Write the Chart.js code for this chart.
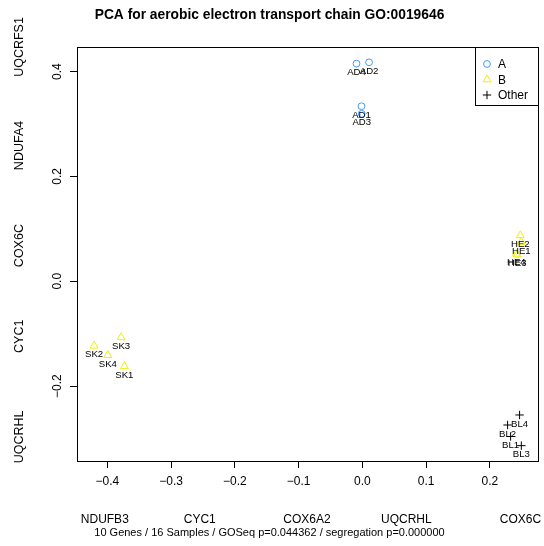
<!DOCTYPE html>
<html lang="en">
<head>
    <meta charset="UTF-8">
    <script src="https://cdn.jsdelivr.net/npm/chart.js@4/dist/chart.umd.min.js"></script>
    <title>PCA aerobic electron transport chain</title>
    <style type="text/css">
        body { margin:0; background:#fff; }
    </style>
</head>
<body>
<canvas id="pcaCanvas" width="544" height="546"></canvas>
<script>

// sample names, group and PCA coordinates
var samples = ['AD1','AD2','AD3','AD4','HE1','HE2','HE3','HE4','SK1','SK2','SK3','SK4','BL1','BL2','BL3','BL4'];
var groups  = ['A','A','A','A','B','B','B','B','B','B','B','B','Other','Other','Other','Other'];
var pc1 = [-0.0014, 0.0105, -0.0010, -0.0092, 0.2493, 0.2477, 0.2428, 0.2415, -0.3733, -0.4208, -0.3785, -0.3993, 0.2325, 0.2278, 0.2493, 0.2466];
var pc2 = [0.3339, 0.4177, 0.3194, 0.4152, 0.0749, 0.0876, 0.0504, 0.0524, -0.1625, -0.1232, -0.1072, -0.1410, -0.2962, -0.2743, -0.3137, -0.2552];

var xTicks = [-0.4, -0.3, -0.2, -0.1, 0.0, 0.1, 0.2];
var yTicks = [-0.2, 0.0, 0.2, 0.4];
var xGenes = ['NDUFB3', 'CYC1', 'COX6A2', 'UQCRHL', 'COX6C'];
var xGenePos = [-0.404, -0.255, -0.087, 0.069, 0.248];
var yGenes = ['UQCRHL', 'CYC1', 'COX6C', 'NDUFA4', 'UQCRFS1'];
var yGenePos = [-0.297, -0.105, 0.068, 0.259, 0.447];

var groupNames = ['A', 'B', 'Other'];
var xMin = -0.4476, xMax = 0.2761;
var yMin = -0.343, yMax = 0.447;

var titleText = 'PCA for aerobic electron transport chain GO:0019646';
var subText = '10 Genes / 16 Samples / GOSeq p=0.044362 / segregation p=0.000000';

var styles = {
    'A':     { pointStyle: 'circle',   radius: 3.4, color: '#3d9bff' },
    'B':     { pointStyle: 'triangle', radius: 4.6, color: '#f0f000' },
    'Other': { pointStyle: 'cross',    radius: 4.2, color: '#000000' }
};

var FONT = "'Liberation Sans', Arial, Helvetica, sans-serif";
Chart.defaults.font.family = FONT;
Chart.defaults.color = '#000';

function fmt(v) {
    return v.toFixed(1).replace('-', '\u2212');
}

var datasets = groupNames.map(function(g) {
    var pts = [];
    for (var i = 0; i < samples.length; i++) {
        if (groups[i] === g) pts.push({ x: pc1[i], y: pc2[i], name: samples[i] });
    }
    var st = styles[g];
    return {
        label: g,
        data: pts,
        pointStyle: st.pointStyle,
        pointRadius: st.radius,
        pointBorderColor: st.color,
        pointBackgroundColor: 'rgba(0,0,0,0)',
        pointBorderWidth: 1
    };
});

// sample names under each point
var labelPlugin = {
    id: 'sampleLabels',
    afterDatasetsDraw: function(chart) {
        var ctx = chart.ctx;
        ctx.save();
        ctx.font = '9.6px ' + FONT;
        ctx.fillStyle = '#000';
        ctx.textAlign = 'center';
        ctx.textBaseline = 'middle';
        chart.data.datasets.forEach(function(ds, i) {
            var meta = chart.getDatasetMeta(i);
            meta.data.forEach(function(pt, j) {
                ctx.fillText(ds.data[j].name, pt.x, pt.y + 9);
            });
        });
        ctx.restore();
    }
};

// frame around the plot + legend in the top right corner
var boxPlugin = {
    id: 'frameLegend',
    afterDraw: function(chart) {
        var ctx = chart.ctx;
        var a = chart.chartArea;
        ctx.save();
        ctx.strokeStyle = '#000';
        ctx.lineWidth = 1;
        ctx.strokeRect(Math.round(a.left) + 0.5, Math.round(a.top) + 0.5,
                       Math.round(a.right - a.left), Math.round(a.bottom - a.top));

        var w = 63, h = 58;
        var lx = Math.round(a.right) - w, ly = Math.round(a.top);
        ctx.fillStyle = '#fff';
        ctx.fillRect(lx + 0.5, ly + 0.5, w, h);
        ctx.strokeRect(lx + 0.5, ly + 0.5, w, h);

        ctx.font = '12px ' + FONT;
        ctx.textAlign = 'left';
        ctx.textBaseline = 'middle';
        chart.data.datasets.forEach(function(ds, i) {
            var y = ly + 17 + i * 15.5;
            ctx.strokeStyle = ds.pointBorderColor;
            ctx.fillStyle = 'rgba(0,0,0,0)';
            ctx.lineWidth = 1;
            Chart.helpers.drawPoint(ctx, {
                pointStyle: ds.pointStyle, radius: ds.pointRadius, rotation: 0, borderWidth: 1
            }, lx + 12, y);
            ctx.fillStyle = '#000';
            ctx.fillText(ds.label, lx + 23, y + 1);
        });
        ctx.restore();
    }
};

function setTicks(list) {
    return function(scale) {
        scale.ticks = list.map(function(v) { return { value: v }; });
    };
}

// fixed axis sizes, and no extra room for overhanging labels
function fixHeight(hh) {
    return function(s) { s.height = hh; s.paddingLeft = 0; s.paddingRight = 0; };
}
function fixWidth(ww) {
    return function(s) { s.width = ww; s.paddingTop = 0; s.paddingBottom = 0; };
}

var chart = new Chart(document.getElementById('pcaCanvas'), {
    type: 'scatter',
    data: { datasets: datasets },
    options: {
        responsive: false,
        animation: false,
        layout: { padding: { left: 0, right: 5, top: 0, bottom: 0 } },
        plugins: {
            legend: { display: false },
            tooltip: { enabled: false },
            title: {
                display: true,
                text: titleText,
                color: '#000',
                font: { size: 13.8, weight: 'bold', family: FONT },
                padding: { top: 7, bottom: 23.4 }
            },
            subtitle: {
                display: true,
                position: 'bottom',
                text: subText,
                color: '#000',
                font: { size: 11, family: FONT },
                padding: { top: 0, bottom: 6.4 }
            }
        },
        scales: {
            x: {
                type: 'linear', position: 'bottom', min: xMin, max: xMax, weight: 0,
                afterBuildTicks: setTicks(xTicks),
                afterFit: fixHeight(36),
                grid: { display: true, drawOnChartArea: false, drawTicks: true, tickLength: 7, color: '#000', lineWidth: 1 },
                border: { display: false },
                ticks: { padding: 6.5, color: '#000', font: { size: 12 }, autoSkip: false, maxRotation: 0, callback: fmt }
            },
            xg: {
                type: 'linear', position: 'bottom', min: xMin, max: xMax, weight: 1,
                afterBuildTicks: setTicks(xGenePos),
                afterFit: fixHeight(29.4),
                grid: { display: false, drawTicks: false },
                border: { display: false },
                ticks: { padding: 15, color: '#000', font: { size: 12 }, autoSkip: false, maxRotation: 0,
                         callback: function(v, i) { return xGenes[i]; } }
            },
            y: {
                type: 'linear', position: 'left', min: yMin, max: yMax, weight: 0,
                afterBuildTicks: setTicks(yTicks),
                afterFit: fixWidth(28),
                grid: { display: true, drawOnChartArea: false, drawTicks: true, tickLength: 7, color: '#000', lineWidth: 1 },
                border: { display: false },
                ticks: { padding: 0, color: '#000', font: { size: 12 }, autoSkip: false,
                         minRotation: 90, maxRotation: 90, crossAlign: 'center', callback: fmt }
            },
            yg: {
                type: 'linear', position: 'left', min: yMin, max: yMax, weight: 1,
                afterBuildTicks: setTicks(yGenePos),
                afterFit: fixWidth(49),
                grid: { display: false, drawTicks: false },
                border: { display: false },
                ticks: { padding: 0, color: '#000', font: { size: 12.5 }, autoSkip: false,
                         minRotation: 90, maxRotation: 90, crossAlign: 'center',
                         callback: function(v, i) { return yGenes[i]; } }
            }
        }
    },
    plugins: [labelPlugin, boxPlugin]
});
</script>
</body>
</html>
